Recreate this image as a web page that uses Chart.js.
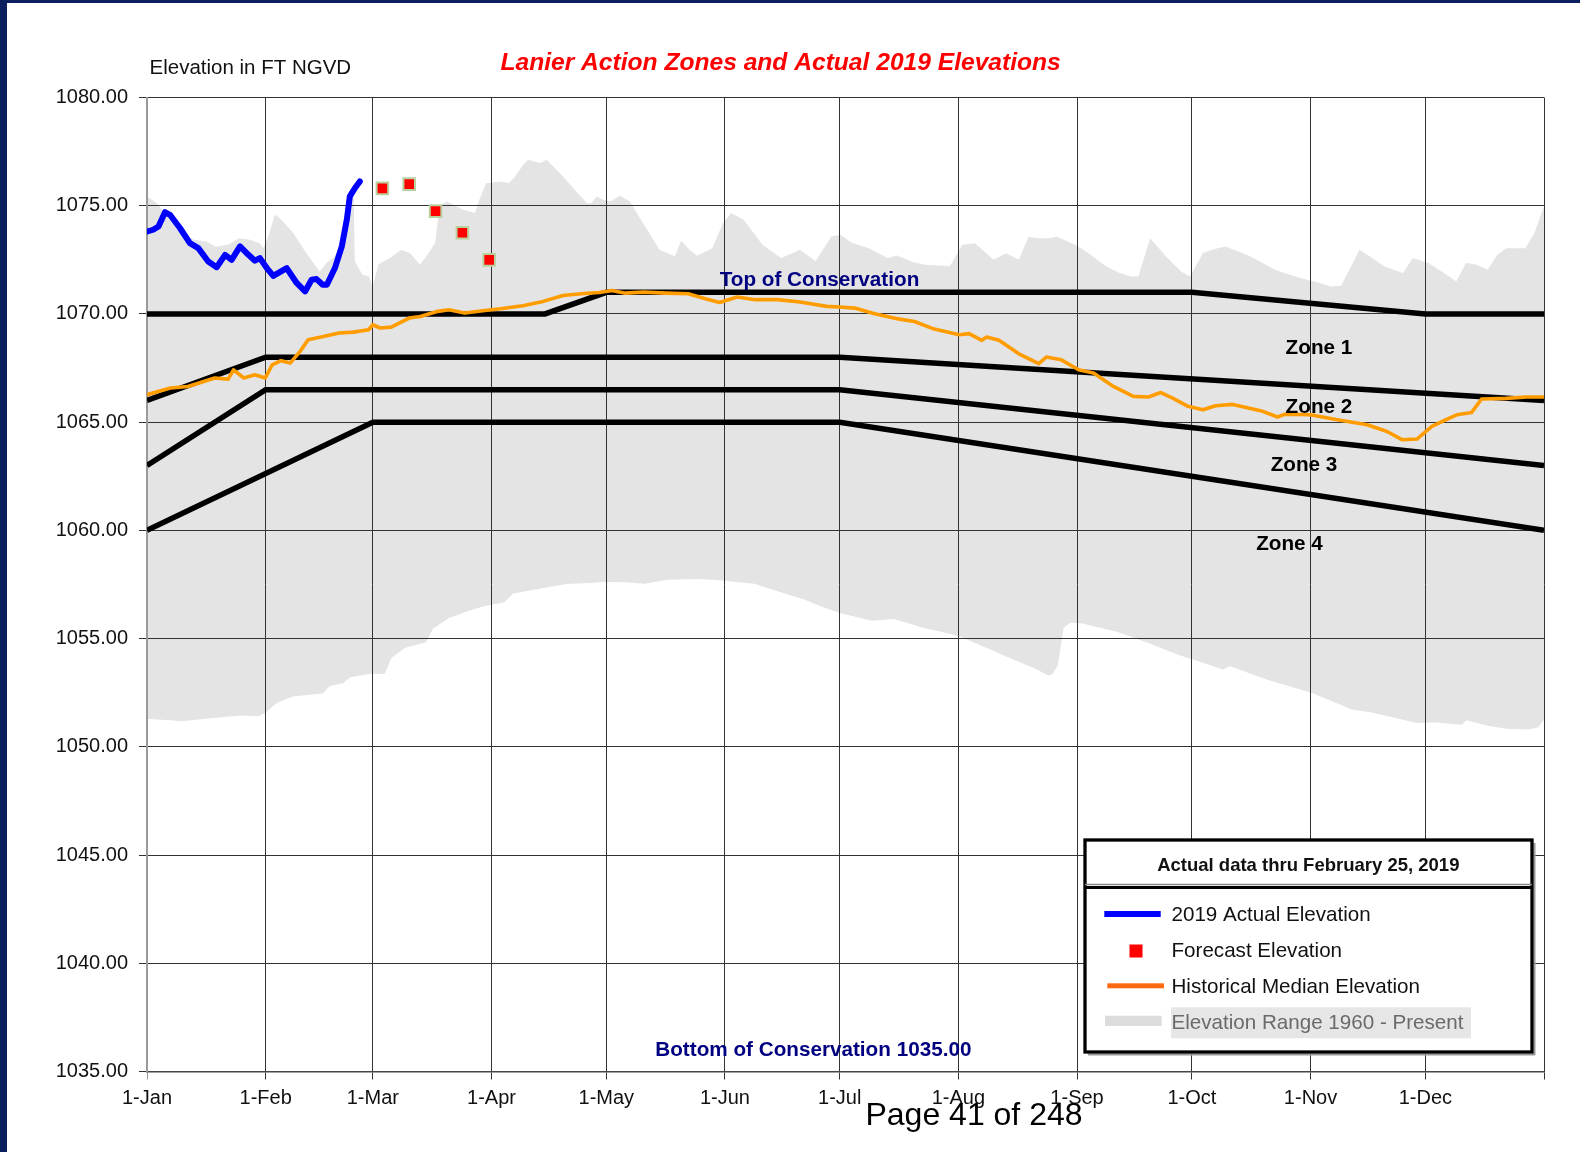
<!DOCTYPE html>
<html><head><meta charset="utf-8">
<script src="https://cdn.jsdelivr.net/npm/chart.js@4.4.1/dist/chart.umd.min.js"></script>
<style>
html,body{margin:0;padding:0;background:#fff;}
body{width:1580px;height:1152px;position:relative;overflow:hidden;}
#c{position:absolute;left:0;top:0;}
.strip{position:absolute;background:#0b1f5e;}
</style></head><body>
<canvas id="c" width="1580" height="1152"></canvas>
<div class="strip" style="left:0;top:0;width:1580px;height:3px"></div>
<div class="strip" style="left:0;top:0;width:7px;height:1152px"></div>
<script>
// ---------- DATA (x = day of year, 0 = 1-Jan) ----------
const monthTickDays   = [0, 31, 59, 90, 120, 151, 181, 212, 243, 273, 304, 334, 365];
const monthTickLabels = ['1-Jan','1-Feb','1-Mar','1-Apr','1-May','1-Jun','1-Jul','1-Aug','1-Sep','1-Oct','1-Nov','1-Dec',''];
const yTickValues = [1035, 1040, 1045, 1050, 1055, 1060, 1065, 1070, 1075, 1080];

const actualDays   = [0.1, 1.6, 3.0, 4.7, 6.0, 8.6, 11.2, 13.4, 16.0, 18.2, 20.4, 22.1, 24.3, 26.5, 28.2, 29.5, 31.3, 33.0, 36.5, 39.1, 41.3, 43.0, 44.3, 45.9, 47.0, 49.1, 50.9, 52.2, 53.0, 54.3, 55.6];
const actualValues = [1073.81, 1073.89, 1074.04, 1074.70, 1074.58, 1073.97, 1073.27, 1073.04, 1072.42, 1072.16, 1072.73, 1072.50, 1073.12, 1072.73, 1072.46, 1072.58, 1072.12, 1071.76, 1072.12, 1071.43, 1071.04, 1071.58, 1071.61, 1071.35, 1071.35, 1072.12, 1073.12, 1074.35, 1075.43, 1075.81, 1076.12];

const forecastDays   = [61.5, 68.5, 75.4, 82.4, 89.4];
const forecastValues = [1075.80, 1076.00, 1074.75, 1073.75, 1072.50];

const medianDays   = [0, 6.1, 10.7, 17.7, 21.2, 22.6, 25.3, 28.2, 30.9, 32.7, 35, 37.4, 40, 42.1, 45.5, 50.2, 53.9, 57.9, 59, 60.9, 63.8, 68.5, 71.4, 76, 78.9, 83, 87.7, 92.4, 98.2, 103.5, 108.7, 113.4, 118.1, 121.5, 125, 129.7, 135.5, 141.4, 146.1, 149.6, 154.2, 158.9, 164.7, 170.6, 177.6, 181, 184.9, 190.1, 196.6, 200.5, 205.7, 212.2, 214.8, 218.1, 219.4, 222.6, 227.8, 233, 235, 238.9, 243.4, 247.3, 252.5, 257.7, 261.6, 264.9, 268.1, 272, 275.9, 279.2, 283.7, 291.5, 295.4, 297.4, 303.9, 311, 318.8, 324, 327.9, 331.8, 335.7, 339, 342.2, 346.1, 348.7, 355.1, 360.4, 365];
const medianValues = [1066.27, 1066.58, 1066.65, 1067.04, 1066.99, 1067.42, 1067.04, 1067.19, 1067.04, 1067.65, 1067.84, 1067.73, 1068.27, 1068.81, 1068.93, 1069.12, 1069.16, 1069.27, 1069.50, 1069.35, 1069.39, 1069.81, 1069.88, 1070.12, 1070.19, 1070.04, 1070.15, 1070.24, 1070.38, 1070.58, 1070.85, 1070.93, 1070.99, 1071.08, 1070.96, 1071.01, 1070.96, 1070.93, 1070.69, 1070.53, 1070.78, 1070.66, 1070.66, 1070.55, 1070.35, 1070.32, 1070.27, 1070.01, 1069.76, 1069.65, 1069.30, 1069.04, 1069.09, 1068.78, 1068.93, 1068.78, 1068.16, 1067.70, 1068.01, 1067.88, 1067.42, 1067.27, 1066.65, 1066.19, 1066.16, 1066.37, 1066.10, 1065.73, 1065.57, 1065.76, 1065.82, 1065.50, 1065.24, 1065.37, 1065.34, 1065.11, 1064.88, 1064.57, 1064.19, 1064.22, 1064.80, 1065.08, 1065.34, 1065.45, 1066.07, 1066.10, 1066.16, 1066.16];

const rangeUpperDays   = [0, 2.5, 5, 8, 12.1, 15.5, 18, 21.2, 24, 26.9, 29.5, 30.4, 31.7, 33.4, 34.7, 38.2, 41.6, 45.1, 46.9, 49.1, 51, 53.5, 54.0, 54.3, 56.3, 58.0, 58.9, 60.5, 63.5, 66.4, 68.7, 71.3, 73.0, 74.3, 75.3, 76.4, 78.3, 82.6, 85.7, 86.8, 88.6, 92.2, 94.5, 96, 98.3, 99.6, 101.3, 102.7, 104.4, 107.9, 111.4, 114.9, 116, 117.5, 119.3, 121, 123.5, 126.2, 128.2, 131, 133.9, 137.9, 139.6, 141.5, 143.7, 147.7, 150.5, 152.6, 155.9, 160.8, 165.7, 170.6, 174.7, 178.8, 181.2, 184, 188.6, 193.5, 196, 200, 203.2, 209.8, 213, 216.3, 221.2, 224.5, 227.8, 230.3, 233, 236, 237.6, 242.5, 246, 250.6, 254, 257.2, 259, 262.1, 266.2, 270.2, 272.5, 275.9, 279, 281.7, 285, 288.2, 294.7, 301.3, 305, 309.4, 312, 316.8, 320, 323.3, 328.2, 330.7, 334.8, 338, 342.1, 344.6, 347, 350.3, 352.8, 355.2, 360.1, 362.5, 365];
const rangeUpperValues = [1075.43, 1075.12, 1074.60, 1074.00, 1073.43, 1073.35, 1073.10, 1073.20, 1073.50, 1073.43, 1073.25, 1073.04, 1073.58, 1074.58, 1074.43, 1073.74, 1072.81, 1071.96, 1072.35, 1072.66, 1073.50, 1075.58, 1075.40, 1072.43, 1071.81, 1071.73, 1071.27, 1072.30, 1072.58, 1072.97, 1072.81, 1072.27, 1072.66, 1073.00, 1073.30, 1074.97, 1075.20, 1074.81, 1074.66, 1075.27, 1076.04, 1076.12, 1076.05, 1076.30, 1076.89, 1077.12, 1077.04, 1076.97, 1077.12, 1076.50, 1075.81, 1075.12, 1075.10, 1075.43, 1075.27, 1075.20, 1075.46, 1075.20, 1074.60, 1073.80, 1072.97, 1072.66, 1073.39, 1073.00, 1072.69, 1073.04, 1074.20, 1074.66, 1074.35, 1073.20, 1072.58, 1072.97, 1072.43, 1073.58, 1073.66, 1073.30, 1073.04, 1072.58, 1072.70, 1072.40, 1072.27, 1072.22, 1073.20, 1073.27, 1072.50, 1072.80, 1072.50, 1073.55, 1073.50, 1073.50, 1073.58, 1073.20, 1072.80, 1072.19, 1071.90, 1071.73, 1071.73, 1073.50, 1072.66, 1071.96, 1071.73, 1072.81, 1073.00, 1073.12, 1072.90, 1072.66, 1072.04, 1071.66, 1071.50, 1071.27, 1071.30, 1072.97, 1072.60, 1072.19, 1071.89, 1072.58, 1072.35, 1072.00, 1071.50, 1072.35, 1072.30, 1072.04, 1072.73, 1073.04, 1073.04, 1073.74, 1074.97];

const rangeLowerDays   = [0, 6.4, 8.8, 14.8, 22, 25, 29.2, 30.9, 33.9, 38.1, 45.9, 47.7, 51.3, 53.1, 58.5, 62.1, 63.9, 67.5, 72.9, 74.7, 78.9, 84.3, 88.5, 93.3, 95.7, 101.1, 109.5, 115.5, 119.7, 125, 129.9, 135.9, 144.3, 150.3, 158.7, 163.5, 171.9, 176, 181, 189.4, 195.2, 203, 210.8, 213.4, 225.2, 231.7, 235.5, 236.5, 237.9, 239.5, 241.3, 244.5, 253.8, 261.6, 269.4, 273.3, 281.1, 283, 292.7, 304.4, 314.8, 320, 331.8, 337, 343.5, 344.8, 350, 355.1, 361, 363.5, 365];
const rangeLowerValues = [1051.29, 1051.23, 1051.18, 1051.29, 1051.41, 1051.45, 1051.41, 1051.57, 1052.03, 1052.33, 1052.46, 1052.80, 1052.95, 1053.21, 1053.38, 1053.36, 1054.11, 1054.58, 1054.83, 1055.45, 1055.95, 1056.30, 1056.52, 1056.67, 1057.08, 1057.26, 1057.52, 1057.57, 1057.62, 1057.60, 1057.54, 1057.72, 1057.75, 1057.69, 1057.54, 1057.26, 1056.80, 1056.50, 1056.18, 1055.83, 1055.91, 1055.49, 1055.18, 1055.03, 1054.11, 1053.64, 1053.29, 1053.35, 1053.72, 1055.49, 1055.75, 1055.70, 1055.29, 1054.80, 1054.26, 1054.03, 1053.57, 1053.72, 1053.10, 1052.49, 1051.72, 1051.59, 1051.10, 1051.13, 1051.02, 1051.23, 1050.98, 1050.83, 1050.80, 1050.90, 1051.26];

const topConsDays   = [0, 104, 120, 273, 334, 365];
const topConsValues = [1070, 1070, 1071, 1071, 1070, 1070];
const zone1Days   = [0, 31, 181, 365];
const zone1Values = [1066, 1068, 1068, 1066];
const zone2Days   = [0, 31, 181, 365];
const zone2Values = [1063, 1066.5, 1066.5, 1063];
const zone3Days   = [0, 59, 181, 365];
const zone3Values = [1060, 1065, 1065, 1060];

const chartTitle  = 'Lanier Action Zones and Actual 2019 Elevations';
const yAxisTitle  = 'Elevation in FT NGVD';
const legendTitle = 'Actual data thru February 25, 2019';
const legendLabels = ['2019 Actual Elevation', 'Forecast Elevation', 'Historical Median Elevation', 'Elevation Range 1960 - Present'];
const plotLabels = [
  {text: 'Top of Conservation', day: 175.7, value: 1071.29, color: '#000080'},
  {text: 'Zone 1', day: 306.2, value: 1068.15, color: '#000'},
  {text: 'Zone 2', day: 306.2, value: 1065.44, color: '#000'},
  {text: 'Zone 3', day: 302.3, value: 1062.74, color: '#000'},
  {text: 'Zone 4', day: 298.5, value: 1059.09, color: '#000'},
  {text: 'Bottom of Conservation 1035.00', day: 174.1, value: 1035.71, color: '#000080'}
];
const pageFooter = 'Page 41 of 248';

// ---------- CHART ----------
const FONT = '"Liberation Sans", Arial, sans-serif';
const pts = (xs, ys) => xs.map((x, i) => ({x: x, y: ys[i]}));
const base = {pointRadius: 0, pointHoverRadius: 0, tension: 0, fill: false};
const zoneStyle = {borderColor: '#000', borderWidth: 5.5, borderCapStyle: 'butt', borderJoinStyle: 'miter', order: 3};

const annot = {
  id: 'annot',
  afterDraw(chart) {
    const ctx = chart.ctx, xs = chart.scales.x, ys = chart.scales.y;
    ctx.save();
    const txt = (s, x, y, font, color, align) => {
      ctx.font = font; ctx.fillStyle = color; ctx.textAlign = align || 'center';
      ctx.textBaseline = 'alphabetic'; ctx.fillText(s, x, y);
    };
    txt(chartTitle, 780.6, 70, 'italic bold 24.6px ' + FONT, '#ff0000');
    txt(yAxisTitle, 149.5, 74, '20.5px ' + FONT, '#111', 'left');
    plotLabels.forEach(l => txt(l.text, xs.getPixelForValue(l.day), ys.getPixelForValue(l.value), 'bold 20.7px ' + FONT, l.color));

    // legend box
    const L = 1085, T = 840, R = 1532, B = 1052;
    ctx.fillStyle = '#fff'; ctx.fillRect(L, T, R - L, B - T);
    ctx.fillStyle = '#9a9a9a'; ctx.fillRect(R + 1.5, T + 3, 2, B - T); ctx.fillRect(L + 3, B + 1.5, R - L, 2);
    ctx.strokeStyle = '#000'; ctx.lineWidth = 3.3; ctx.strokeRect(L, T, R - L, B - T);
    ctx.strokeStyle = '#888'; ctx.lineWidth = 1.5;
    ctx.beginPath(); ctx.moveTo(L, 884.5); ctx.lineTo(R, 884.5); ctx.stroke();
    ctx.strokeStyle = '#000'; ctx.lineWidth = 3;
    ctx.beginPath(); ctx.moveTo(L, 887.5); ctx.lineTo(R, 887.5); ctx.stroke();
    txt(legendTitle, 1308.3, 871, 'bold 18.5px ' + FONT, '#111');
    // swatches
    ctx.fillStyle = '#0000ff'; ctx.fillRect(1104.3, 911, 56.4, 6);
    ctx.fillStyle = '#ff0000'; ctx.fillRect(1129.5, 944.5, 13, 13);
    ctx.fillStyle = '#ff6a10'; ctx.fillRect(1107.3, 983.3, 56.7, 5);
    ctx.fillStyle = '#dcdcdc'; ctx.fillRect(1105, 1015.7, 56.7, 10.3);
    ctx.fillStyle = '#e6e6e6'; ctx.fillRect(1171, 1007.3, 300, 31);
    const lf = '20.6px ' + FONT;
    txt(legendLabels[0], 1171.5, 921, lf, '#111', 'left');
    txt(legendLabels[1], 1171.5, 957, lf, '#111', 'left');
    txt(legendLabels[2], 1171.5, 993, lf, '#111', 'left');
    txt(legendLabels[3], 1171.5, 1029, lf, '#6a6a6a', 'left');

    txt(pageFooter, 974, 1125, '32px ' + FONT, '#000');
    ctx.restore();
  }
};

new Chart(document.getElementById('c'), {
  type: 'line',
  data: {
    datasets: [
      Object.assign({}, base, {label: legendLabels[0], data: pts(actualDays, actualValues), borderColor: '#0000ff', borderWidth: 6, borderCapStyle: 'round', borderJoinStyle: 'round', order: 0}),
      {label: legendLabels[1], data: pts(forecastDays, forecastValues), showLine: false, pointStyle: 'rect', pointRadius: 8.2, pointHoverRadius: 8.2, pointBackgroundColor: '#ff0000', pointBorderColor: '#b9d19e', pointBorderWidth: 2, fill: false, order: 1},
      Object.assign({}, base, {label: legendLabels[2], data: pts(medianDays, medianValues), borderColor: '#ff9c00', borderWidth: 3.6, borderJoinStyle: 'round', order: 2}),
      Object.assign({}, base, zoneStyle, {label: 'Top of Conservation', data: pts(topConsDays, topConsValues)}),
      Object.assign({}, base, zoneStyle, {label: 'Zone 1 / Zone 2', data: pts(zone1Days, zone1Values)}),
      Object.assign({}, base, zoneStyle, {label: 'Zone 2 / Zone 3', data: pts(zone2Days, zone2Values)}),
      Object.assign({}, base, zoneStyle, {label: 'Zone 3 / Zone 4', data: pts(zone3Days, zone3Values)}),
      Object.assign({}, base, {label: 'Range max', data: pts(rangeUpperDays, rangeUpperValues), borderColor: 'rgba(0,0,0,0)', borderWidth: 0, backgroundColor: '#e4e4e4', fill: '+1', order: 9}),
      Object.assign({}, base, {label: 'Range min', data: pts(rangeLowerDays, rangeLowerValues), borderColor: 'rgba(0,0,0,0)', borderWidth: 0, order: 10})
    ]
  },
  options: {
    responsive: false, animation: false, events: [],
    layout: {padding: {top: 97.5, right: 36, left: 0, bottom: 0}},
    plugins: {legend: {display: false}, tooltip: {enabled: false}, filler: {drawTime: 'beforeDraw', propagate: false}},
    scales: {
      x: {
        type: 'linear', min: 0, max: 365,
        afterBuildTicks: s => { s.ticks = monthTickDays.map(v => ({value: v})); },
        afterFit: s => { s.height = 80.5; },
        ticks: {autoSkip: false, maxRotation: 0, minRotation: 0, padding: 7, color: '#111', font: {family: FONT, size: 20},
                callback: (v, i) => monthTickLabels[i]},
        grid: {color: c => (c.index === 0 ? '#9a9a9a' : '#333'), lineWidth: 1, tickLength: 8},
        border: {color: '#444', width: 1.5}
      },
      y: {
        type: 'linear', min: 1035, max: 1080,
        afterBuildTicks: s => { s.ticks = yTickValues.map(v => ({value: v})); },
        afterFit: s => { s.width = 147; },
        ticks: {padding: 11, color: '#111', font: {family: FONT, size: 20}, callback: v => Number(v).toFixed(2)},
        grid: {color: '#333', lineWidth: 1, tickLength: 8},
        border: {color: '#9a9a9a', width: 2}
      }
    }
  },
  plugins: [annot]
});
</script></body></html>
